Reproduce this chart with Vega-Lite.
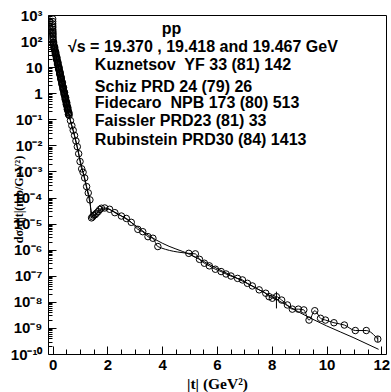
{
  "$schema": "https://vega.github.io/schema/vega-lite/v6.json",
  "width": 338,
  "height": 339,
  "autosize": "none",
  "padding": {"left": 48, "top": 15, "right": 5, "bottom": 38},
  "background": "white",
  "config": {
    "view": {"stroke": "black", "strokeWidth": 1},
    "axis": {
      "domain": false,
      "grid": false,
      "tickColor": "black",
      "tickWidth": 1,
      "labelColor": "black",
      "labelFont": "Liberation Sans",
      "labelFontWeight": "bold",
      "labelFontSize": 15,
      "labelFlush": false,
      "labelOverlap": false,
      "labelBound": false,
      "titleColor": "black",
      "titleFont": "Liberation Serif",
      "titleFontWeight": "bold"
    }
  },
  "datasets": {
    "pts": [
      {"t": 0.0012, "y": 708}, {"t": 0.0016, "y": 562}, {"t": 0.002, "y": 457}, {"t": 0.0025, "y": 380},
      {"t": 0.003, "y": 331}, {"t": 0.004, "y": 275}, {"t": 0.005, "y": 240}, {"t": 0.006, "y": 214},
      {"t": 0.007, "y": 191}, {"t": 0.008, "y": 174}, {"t": 0.01, "y": 151}, {"t": 0.012, "y": 132},
      {"t": 0.015, "y": 112}, {"t": 0.02, "y": 89.1},
      {"t": 0.03, "y": 79.8}, {"t": 0.04, "y": 71.3}, {"t": 0.05, "y": 63.8}, {"t": 0.06, "y": 57.1},
      {"t": 0.07, "y": 51.1}, {"t": 0.08, "y": 45.7}, {"t": 0.09, "y": 40.9}, {"t": 0.10, "y": 36.6},
      {"t": 0.11, "y": 32.8}, {"t": 0.12, "y": 29.3}, {"t": 0.13, "y": 26.2}, {"t": 0.14, "y": 23.5},
      {"t": 0.15, "y": 21.0}, {"t": 0.16, "y": 18.8}, {"t": 0.17, "y": 16.8}, {"t": 0.18, "y": 15.0},
      {"t": 0.19, "y": 13.5}, {"t": 0.20, "y": 12.0}, {"t": 0.21, "y": 10.8}, {"t": 0.22, "y": 9.64},
      {"t": 0.23, "y": 8.63}, {"t": 0.24, "y": 7.72}, {"t": 0.25, "y": 6.90}, {"t": 0.26, "y": 6.18},
      {"t": 0.27, "y": 5.53}, {"t": 0.28, "y": 4.95}, {"t": 0.29, "y": 4.43}, {"t": 0.30, "y": 3.96},
      {"t": 0.31, "y": 3.54}, {"t": 0.32, "y": 3.17}, {"t": 0.33, "y": 2.84}, {"t": 0.34, "y": 2.54},
      {"t": 0.35, "y": 2.27}, {"t": 0.36, "y": 2.03}, {"t": 0.37, "y": 1.82}, {"t": 0.38, "y": 1.63},
      {"t": 0.39, "y": 1.46}, {"t": 0.40, "y": 1.30}, {"t": 0.41, "y": 1.16}, {"t": 0.42, "y": 1.04},
      {"t": 0.43, "y": 0.933}, {"t": 0.44, "y": 0.834}, {"t": 0.45, "y": 0.746}, {"t": 0.46, "y": 0.668},
      {"t": 0.47, "y": 0.597}, {"t": 0.48, "y": 0.535}, {"t": 0.49, "y": 0.478}, {"t": 0.50, "y": 0.428},
      {"t": 0.51, "y": 0.383}, {"t": 0.52, "y": 0.343}, {"t": 0.53, "y": 0.307}, {"t": 0.54, "y": 0.274},
      {"t": 0.55, "y": 0.245}, {"t": 0.56, "y": 0.220}, {"t": 0.57, "y": 0.196}, {"t": 0.58, "y": 0.176},
      {"t": 0.59, "y": 0.157}, {"t": 0.60, "y": 0.141},
      {"t": 0.65, "y": 0.0891}, {"t": 0.70, "y": 0.0575}, {"t": 0.75, "y": 0.0380}, {"t": 0.80, "y": 0.0240},
      {"t": 0.85, "y": 0.0148}, {"t": 0.90, "y": 0.00891}, {"t": 0.95, "y": 0.00479}, {"t": 1.00, "y": 0.00240},
      {"t": 1.06, "y": 0.00126}, {"t": 1.11, "y": 0.000933}, {"t": 1.17, "y": 0.000562}, {"t": 1.24, "y": 0.000263},
      {"t": 1.30, "y": 0.000151}, {"t": 1.36, "y": 8.13e-5}, {"t": 1.42, "y": 1.66e-5}, {"t": 1.46, "y": 1.82e-5},
      {"t": 1.50, "y": 2.09e-5}, {"t": 1.55, "y": 2.19e-5}, {"t": 1.60, "y": 2.51e-5}, {"t": 1.66, "y": 2.88e-5},
      {"t": 1.72, "y": 3.47e-5}, {"t": 1.78, "y": 3.89e-5}, {"t": 1.90, "y": 3.98e-5}, {"t": 2.08, "y": 3.55e-5},
      {"t": 2.27, "y": 2.63e-5}, {"t": 2.51, "y": 1.95e-5}, {"t": 2.69, "y": 1.58e-5}, {"t": 2.87, "y": 1.12e-5},
      {"t": 3.11, "y": 6.03e-6}, {"t": 3.29, "y": 4.90e-6}, {"t": 3.48, "y": 3.16e-6}, {"t": 3.66, "y": 2.75e-6},
      {"t": 3.84, "y": 1.32e-6}, {"t": 4.97, "y": 7.24e-7}, {"t": 5.21, "y": 6.92e-7}, {"t": 5.36, "y": 4.27e-7},
      {"t": 5.54, "y": 3.02e-7}, {"t": 5.72, "y": 2.40e-7}, {"t": 5.94, "y": 1.78e-7}, {"t": 6.15, "y": 1.45e-7},
      {"t": 6.33, "y": 1.17e-7}, {"t": 6.51, "y": 9.77e-8}, {"t": 6.75, "y": 7.94e-8}, {"t": 6.93, "y": 6.92e-8},
      {"t": 7.11, "y": 5.13e-8}, {"t": 7.29, "y": 4.07e-8}, {"t": 7.54, "y": 2.88e-8}, {"t": 7.78, "y": 2.14e-8},
      {"t": 7.90, "y": 1.58e-8}, {"t": 8.02, "y": 1.38e-8},
      {"t": 8.17, "y": 1.58e-8, "lo": 5.6e-9, "hi": 2.45e-8},
      {"t": 8.36, "y": 1.17e-8}, {"t": 8.57, "y": 7.59e-9}, {"t": 8.75, "y": 5.25e-9}, {"t": 8.97, "y": 5.25e-9},
      {"t": 9.17, "y": 4.90e-9}, {"t": 9.36, "y": 2.00e-9}, {"t": 9.57, "y": 4.57e-9}, {"t": 9.78, "y": 2.34e-9},
      {"t": 9.96, "y": 2.00e-9}, {"t": 10.27, "y": 1.58e-9}, {"t": 10.65, "y": 1.29e-9}, {"t": 11.05, "y": 7.94e-10},
      {"t": 11.45, "y": 7.94e-10},
      {"t": 11.87, "y": 3.72e-10, "lo": 2.9e-10, "hi": 4.8e-10}
    ],
    "pts2": [
      {"t": 0.035, "y": 90.7}, {"t": 0.055, "y": 50.2}, {"t": 0.075, "y": 58.1}, {"t": 0.095, "y": 32.2},
      {"t": 0.115, "y": 37.3}, {"t": 0.135, "y": 20.6}, {"t": 0.155, "y": 23.9}, {"t": 0.175, "y": 13.2},
      {"t": 0.195, "y": 15.3}, {"t": 0.215, "y": 8.48}, {"t": 0.235, "y": 9.81}, {"t": 0.255, "y": 5.43},
      {"t": 0.275, "y": 6.29}, {"t": 0.295, "y": 3.48}, {"t": 0.315, "y": 4.03}, {"t": 0.335, "y": 2.23},
      {"t": 0.355, "y": 2.58}, {"t": 0.375, "y": 1.43}, {"t": 0.395, "y": 1.65}, {"t": 0.415, "y": 0.917},
      {"t": 0.435, "y": 1.06}, {"t": 0.455, "y": 0.587}, {"t": 0.475, "y": 0.680}, {"t": 0.495, "y": 0.376},
      {"t": 0.515, "y": 0.436}, {"t": 0.535, "y": 0.241}, {"t": 0.555, "y": 0.279}, {"t": 0.575, "y": 0.155},
      {"t": 0.595, "y": 0.179}
    ],
    "fit": [
      {"t": 0.01, "y": 100}, {"t": 0.1, "y": 36.3}, {"t": 0.3, "y": 3.98}, {"t": 0.5, "y": 0.427},
      {"t": 0.6, "y": 0.141}, {"t": 0.8, "y": 0.0224}, {"t": 1.0, "y": 0.00282}, {"t": 1.1, "y": 0.001},
      {"t": 1.2, "y": 3.55e-4}, {"t": 1.3, "y": 1.26e-4}, {"t": 1.36, "y": 6.31e-5}, {"t": 1.42, "y": 2.51e-5},
      {"t": 1.47, "y": 1.78e-5}, {"t": 1.52, "y": 1.91e-5}, {"t": 1.6, "y": 2.40e-5}, {"t": 1.7, "y": 3.02e-5},
      {"t": 1.85, "y": 3.55e-5}, {"t": 2.0, "y": 3.63e-5}, {"t": 2.2, "y": 3.02e-5}, {"t": 2.5, "y": 2.0e-5},
      {"t": 3.0, "y": 8.91e-6}, {"t": 3.5, "y": 3.55e-6}, {"t": 4.0, "y": 1.78e-6}, {"t": 5.0, "y": 6.61e-7},
      {"t": 6.0, "y": 1.91e-7}, {"t": 7.0, "y": 5.75e-8}, {"t": 8.0, "y": 1.58e-8}, {"t": 9.0, "y": 3.98e-9},
      {"t": 10.0, "y": 1.20e-9}, {"t": 11.0, "y": 4.17e-10}, {"t": 11.9, "y": 1.51e-10}
    ],
    "notes": [
      {"t": 3.98, "y": 278, "label": "pp"},
      {"t": 0.56, "y": 59.3, "label": "√s = 19.370 , 19.418 and 19.467 GeV"},
      {"t": 1.54, "y": 12.1, "label": "Kuznetsov\u00a0 YF 33 (81) 142"},
      {"t": 1.54, "y": 1.81, "label": "Schiz PRD 24 (79) 26"},
      {"t": 1.54, "y": 0.404, "label": "Fidecaro\u00a0 NPB 173 (80) 513"},
      {"t": 1.54, "y": 0.0863, "label": "Faissler PRD23 (81) 33"},
      {"t": 1.54, "y": 0.0161, "label": "Rubinstein PRD30 (84) 1413"}
    ]
  },
  "encoding": {
    "x": {
      "field": "t",
      "type": "quantitative",
      "scale": {"domain": [-0.17, 12.17], "nice": false, "zero": false},
      "axis": {
        "values": [0, 0.5, 1, 1.5, 2, 2.5, 3, 3.5, 4, 4.5, 5, 5.5, 6, 6.5, 7, 7.5, 8, 8.5, 9, 9.5, 10, 10.5, 11, 11.5, 12],
        "labelExpr": "datum.value % 2 == 0 ? format(datum.value, 'd') : ''",
        "tickSize": {"condition": {"test": "datum.value % 2 == 0", "value": -8}, "value": -5},
        "labelPadding": 11,
        "title": "|t| (GeV²)",
        "titleFontSize": 15.5,
        "titleX": 169,
        "titleAlign": "center",
        "titlePadding": 1
      }
    },
    "y": {
      "field": "y",
      "type": "quantitative",
      "scale": {"type": "log", "domain": [1e-10, 1000], "nice": false},
      "axis": {
        "tickCount": 200,
        "labelExpr": "abs(log(datum.value)/LN10 - round(log(datum.value)/LN10)) > 0.01 ? '' : ['10⁻¹⁰','10⁻⁹','10⁻⁸','10⁻⁷','10⁻⁶','10⁻⁵','10⁻⁴','10⁻³','10⁻²','10⁻¹','1','10','10²','10³'][round(log(datum.value)/LN10) + 10]",
        "tickSize": {"condition": {"test": "abs(log(datum.value)/LN10 - round(log(datum.value)/LN10)) < 0.01", "value": -8}, "value": -4},
        "labelPadding": 14,
        "title": "dσ/d|t|(mb/GeV²)",
        "titleFontSize": 12,
        "titleAngle": -90,
        "titleX": -30,
        "titleY": 184,
        "titleAlign": "center",
        "titleBaseline": "middle"
      }
    }
  },
  "layer": [
    {
      "data": {"name": "fit"},
      "mark": {"type": "line", "color": "black", "strokeWidth": 1, "interpolate": "monotone", "clip": true}
    },
    {
      "data": {"name": "pts"},
      "mark": {"type": "line", "color": "black", "strokeWidth": 1, "interpolate": "monotone", "clip": true}
    },
    {
      "data": {"name": "pts"},
      "transform": [{"filter": "isValid(datum.lo)"}],
      "mark": {"type": "rule", "color": "black", "strokeWidth": 1},
      "encoding": {"y": {"field": "lo", "type": "quantitative"}, "y2": {"field": "hi"}}
    },
    {
      "data": {"name": "pts2"},
      "mark": {"type": "point", "shape": "circle", "filled": false, "stroke": "black", "strokeWidth": 1, "size": 42, "opacity": 1, "clip": true}
    },
    {
      "data": {"name": "pts"},
      "mark": {"type": "point", "shape": "circle", "filled": false, "stroke": "black", "strokeWidth": 1, "size": 42, "opacity": 1, "clip": true}
    },
    {
      "data": {"name": "notes"},
      "mark": {"type": "text", "align": "left", "baseline": "middle", "font": "Liberation Sans", "fontWeight": "bold", "fontSize": 16, "color": "black"},
      "encoding": {"text": {"field": "label"}}
    }
  ]
}
